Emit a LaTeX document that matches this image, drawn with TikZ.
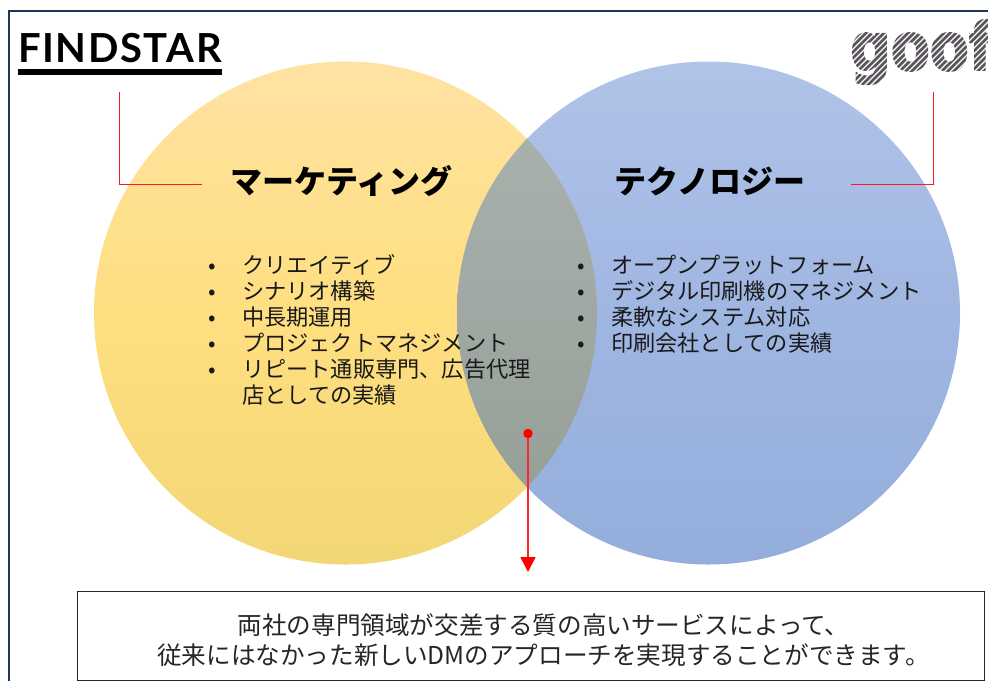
\documentclass[tikz,border=0pt]{standalone}
\usepackage{fontspec}
\setmainfont{Noto Sans CJK JP}
\newfontfamily\logofont{Lato}
\newfontfamily\goofont[BoldFeatures={FakeBold=3}]{DejaVu Sans}
\usepackage{xcolor}
\usetikzlibrary{arrows.meta,positioning}
\definecolor{vnframe}{RGB}{31,56,84}
\definecolor{vnyellowtop}{RGB}{255,226,163}
\definecolor{vnyellowmid}{RGB}{255,223,128}
\definecolor{vnyellowbot}{RGB}{243,214,118}
\definecolor{vnbluetop}{RGB}{176,195,232}
\definecolor{vnbluemid}{RGB}{160,182,226}
\definecolor{vnbluebot}{RGB}{148,174,219}
\definecolor{vngraytop}{RGB}{172,180,176}
\definecolor{vngraybot}{RGB}{146,156,148}
\definecolor{vngoo}{RGB}{88,84,90}
\tikzstyle{link} = [red!90!white, line width=1pt]
\tikzstyle{arrow} = [red!85!white, line width=1.6pt, -{Triangle[width=15pt,length=15pt,color=red]}]
\tikzstyle{heading} = [inner sep=0pt, font=\fontsize{32}{36}\selectfont\bfseries]
\tikzstyle{itemlist} = [inner sep=0pt, anchor=north west, align=left, text=black!90, font=\fontsize{22.2}{26}\selectfont]
\tikzstyle{summary} = [inner sep=0pt, align=center, text=black!85, font=\fontsize{24.6}{30}\selectfont]
\newcommand{\itembullet}{\makebox[34pt][l]{\textbullet}}
\begin{document}
\begin{tikzpicture}[x=1pt,y=-1pt]
\useasboundingbox (0,0) rectangle (988,681);
\fill[white] (0,0) rectangle (988,681);
% Circles
\node (findstarset) [circle, minimum size=503pt, inner sep=0pt, top color=vnyellowtop, bottom color=vnyellowbot, middle color=vnyellowmid] at (345.5,313) {};
\node (gooset) [circle, minimum size=503pt, inner sep=0pt, top color=vnbluetop, bottom color=vnbluebot, middle color=vnbluemid] at (708.5,313) {};
\begin{scope}
\clip (345.5,313) circle (251.5);
\node (overlap) [circle, minimum size=503pt, inner sep=0pt, top color=vngraytop, bottom color=vngraybot] at (708.5,313) {};
\end{scope}
% Logos
\node (findstar) [inner sep=0pt, anchor=base west, font=\fontsize{40}{46}\logofont\bfseries] at (18,62) {\addfontfeature{LetterSpace=4}FINDSTAR};
\node (findstarbar) [fill=black, inner sep=0pt, minimum width=204pt, minimum height=6.5pt, anchor=north west] at (17.5,68.5) {};
\node (goo) [inner sep=0pt, anchor=base west, text=vngoo, font=\fontsize{66}{70}\goofont\bfseries] at (850,70) {\scalebox{0.86}[1]{goof}};
\begin{scope}
\clip (840,14) rectangle (988,88);
\foreach \i in {0,...,40} {
  \draw[white, line width=1.3pt] (800+6*\i,90) -- +(80,-80);
}
\end{scope}
% Frame
\coordinate (framebottom) at (9,681);
\coordinate (framecorner) at (9,11);
\coordinate (frameright) at (988,11);
\draw[vnframe, line width=1.6pt] (framebottom) -- (framecorner) -- (frameright);
% Headings
\node (marketing) [heading] at (341.5,181) {マーケティング};
\node (technology) [heading] at (710,181) {テクノロジー};
% Lists
\node (marketinglist) [itemlist] at (208,254.5) {\itembullet クリエイティブ\\\itembullet シナリオ構築\\\itembullet 中長期運用\\\itembullet プロジェクトマネジメント\\\itembullet リピート通販専門、広告代理\\\hspace*{34pt}店としての実績};
\node (technologylist) [itemlist] at (577,254.5) {\itembullet オープンプラットフォーム\\\itembullet デジタル印刷機のマネジメント\\\itembullet 柔軟なシステム対応\\\itembullet 印刷会社としての実績};
% Leader lines
\coordinate (findstarend) at (119.5,92);
\coordinate (marketingend) at (202,184);
\coordinate (gooend) at (933,92);
\coordinate (technologyend) at (851,184);
\draw[link] (findstarend) |- (marketingend);
\draw[link] (gooend) |- (technologyend);
% Result
\node (crossdot) [circle, fill=red, minimum size=9.5pt, inner sep=0pt] at (528,433.5) {};
\node (result) [draw=black!85, line width=0.8pt, inner sep=0pt, minimum width=907pt, minimum height=89pt, anchor=north west] at (76.5,591) {};
\node (resulttext) [summary] at (543.5,640) {両社の専門領域が交差する質の高いサービスによって、\\従来にはなかった新しいDMのアプローチを実現することができます。};
\coordinate (arrowend) at (528,572);
\draw[arrow] (crossdot) -- (arrowend);
\end{tikzpicture}
\end{document}
